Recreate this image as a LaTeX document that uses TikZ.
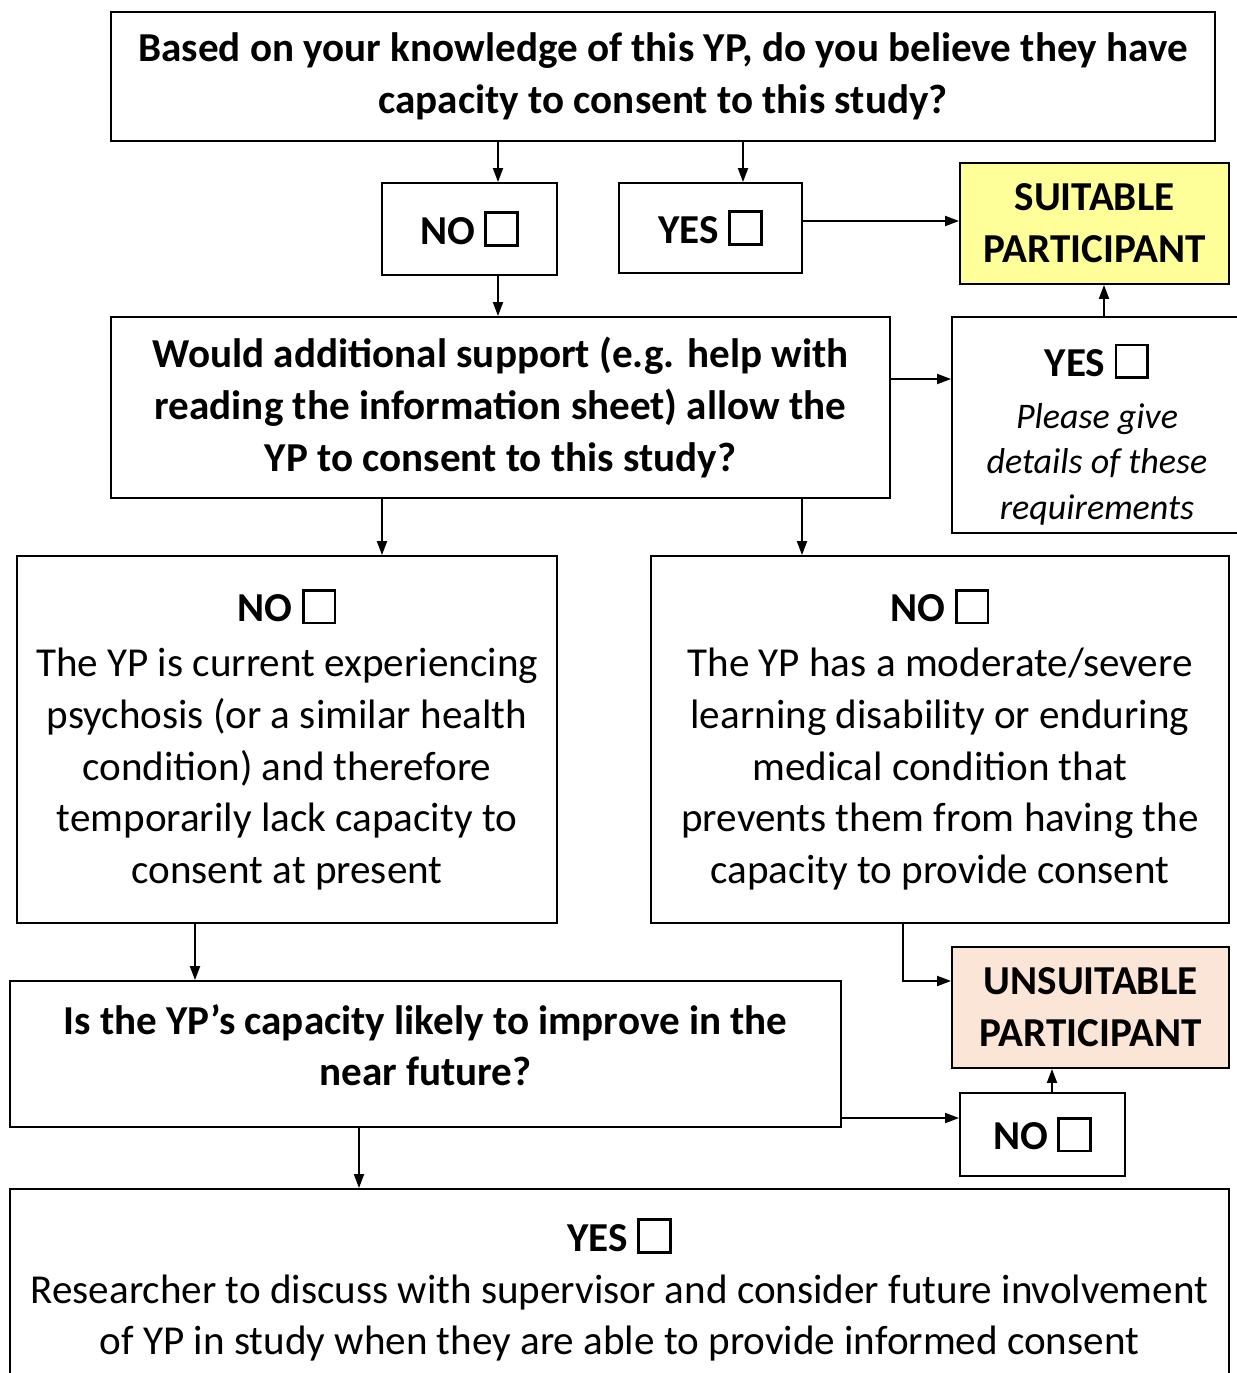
\documentclass[tikz,border=0pt]{standalone}
\usepackage{fontspec}
\setmainfont{Carlito}
\usetikzlibrary{arrows.meta}
\definecolor{suit}{HTML}{FFFF99}
\definecolor{unsuit}{HTML}{FBE5D6}
\newcommand\cbx{{\fboxsep=0pt\fboxrule=1.6pt\fbox{\rule{0pt}{0.6cm}\rule{0.58cm}{0pt}}}}
\begin{document}
\begin{tikzpicture}[x=0.02cm,y=-0.02cm,
  box/.style={draw, line width=1.1pt, inner sep=0pt, align=center, font=\fontsize{23.4}{29.5}\selectfont},
  bbox/.style={box, font=\fontsize{23.4}{29.5}\selectfont\bfseries},
  arr/.style={-{Triangle[length=0.28cm,width=0.2cm]}, line width=1.1pt}]
\useasboundingbox (0,0) rectangle (1237,1373);

\node[bbox, minimum width=22.08cm, minimum height=2.58cm] (q1) at (663,76.5) {Based on your knowledge of this YP, do you believe they have\\capacity to consent to this study?};
\node[bbox, minimum width=3.5cm, minimum height=1.84cm] (no1) at (469.5,229) {NO \cbx};
\node[bbox, minimum width=3.66cm, minimum height=1.8cm] (yes1) at (710.5,228) {YES \cbx};
\node[bbox, fill=suit, minimum width=5.38cm, minimum height=2.42cm] (suit) at (1094.5,223.5) {SUITABLE\\PARTICIPANT};
\node[bbox, minimum width=15.58cm, minimum height=3.62cm] (q2) at (500.5,407.5) {Would additional support (e.g. help with\\reading the information sheet) allow the\\YP to consent to this study?};
\node[box, font=\fontsize{20.5}{26}\selectfont, minimum width=5.8cm, minimum height=4.32cm] (yes2) at (1097,425) {{\fontsize{23.4}{29.5}\selectfont\bfseries\rule{0pt}{1.03cm}YES \cbx}\\[0.12cm]\itshape Please give\\\itshape details of these\\\itshape requirements};
\node[box, minimum width=10.8cm, minimum height=7.34cm] (nol) at (287,739.5) {{\bfseries NO \cbx}\\[0.06cm]The YP is current experiencing\\psychosis (or a similar health\\condition) and therefore\\temporarily lack capacity to\\consent at present\rule[-0.12cm]{0pt}{0pt}};
\node[box, minimum width=11.56cm, minimum height=7.34cm] (nor) at (940,739.5) {{\bfseries NO \cbx}\\[0.06cm]The YP has a moderate/severe\\learning disability or enduring\\medical condition that\\prevents them from having the\\capacity to provide consent\rule[-0.12cm]{0pt}{0pt}};
\node[bbox, fill=unsuit, minimum width=5.54cm, minimum height=2.42cm] (uns) at (1090.5,1007.5) {UNSUITABLE\\PARTICIPANT};
\node[bbox, minimum width=16.62cm, minimum height=2.92cm] (q3) at (425.5,1054) {Is the YP’s capacity likely to improve in the\\near future?\rule[-0.36cm]{0pt}{0pt}};
\node[bbox, minimum width=3.3cm, minimum height=1.66cm] (no3) at (1042.5,1134.5) {NO \cbx};
\node[box, minimum width=24.38cm, minimum height=4.04cm] (yes3) at (619.5,1290) {{\bfseries YES \cbx}\\Researcher to discuss with supervisor and consider future involvement\\of YP in study when they are able to provide informed consent};

\coordinate (c498) at (498,0);
\coordinate (c743) at (743,0);
\coordinate (c1104) at (1104,0);
\coordinate (c382) at (382,0);
\coordinate (c802) at (802,0);
\coordinate (c903) at (903,0);
\coordinate (c195) at (195,0);
\coordinate (c1052) at (1052,0);
\coordinate (c359) at (359,0);
\coordinate (r221) at (0,221);
\coordinate (r379) at (0,379);
\coordinate (r981) at (0,981);
\coordinate (r1118) at (0,1118);

\draw[arr] (q1.south -| c498) -- (no1.north -| c498);
\draw[arr] (q1.south -| c743) -- (yes1.north -| c743);
\draw[arr] (yes1.east |- r221) -- (suit.west |- r221);
\draw[arr] (no1.south -| c498) -- (q2.north -| c498);
\draw[arr] (q2.east |- r379) -- (yes2.west |- r379);
\draw[arr] (yes2.north -| c1104) -- (suit.south -| c1104);
\draw[arr] (q2.south -| c382) -- (nol.north -| c382);
\draw[arr] (q2.south -| c802) -- (nor.north -| c802);
\draw[arr] (nor.south -| c903) |- (uns.west |- r981);
\draw[arr] (nol.south -| c195) -- (q3.north -| c195);
\draw[arr] (q3.east |- r1118) -- (no3.west |- r1118);
\draw[arr] (no3.north -| c1052) -- (uns.south -| c1052);
\draw[arr] (q3.south -| c359) -- (yes3.north -| c359);
\end{tikzpicture}
\end{document}
